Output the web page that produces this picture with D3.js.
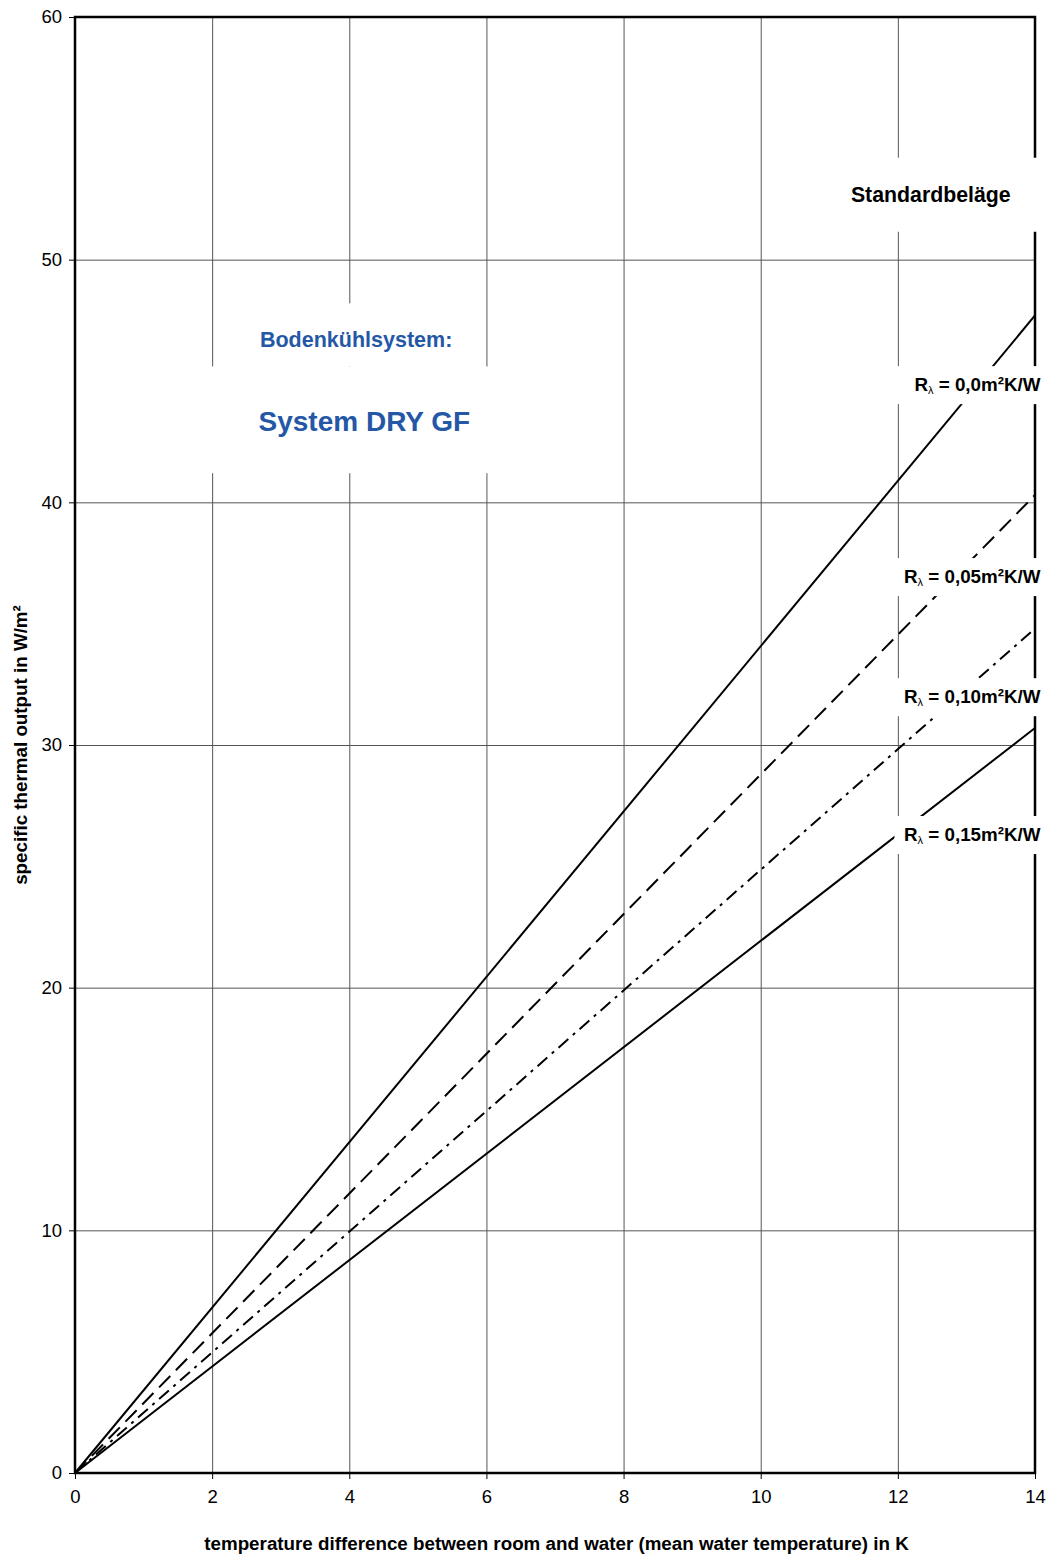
<!DOCTYPE html>
<html>
<head>
<meta charset="utf-8">
<script src="https://cdn.jsdelivr.net/npm/d3@7"></script>
<style>
  body { margin: 0; background: #fff; }
  svg { display: block; font-family: "Liberation Sans", Arial, sans-serif; }
  .grid line { stroke: #555; stroke-width: 1; }
  .grid path { display: none; }
  .axis path { display: none; }
  .axis line { stroke: #000; }
  .axis text { font-size: 18.5px; fill: #000; }
</style>
</head>
<body>
<svg id="chart" width="1049" height="1556"></svg>
<script>
// temperature difference in K
const xValues = [0, 14];
// specific thermal output in W/m² per floor resistance
const seriesNames = ['0,0', '0,05', '0,10', '0,15'];
const seriesValues = [
  [0, 47.7],
  [0, 40.3],
  [0, 34.8],
  [0, 30.7],
];
const seriesDash = [null, '16,8', '13,6,3,6', null];
const xTicks = [0, 2, 4, 6, 8, 10, 12, 14];
const yTicks = [0, 10, 20, 30, 40, 50, 60];
// label anchor heights (W/m²) for the R labels
const rLabelY = [44.83, 36.92, 31.97, 26.29];

const svg = d3.select('#chart');
const margin = { top: 17, right: 14, bottom: 83, left: 75 };
const width = 1049 - margin.left - margin.right;
const height = 1556 - margin.top - margin.bottom;

const x = d3.scaleLinear().domain([0, 14]).range([0, width]);
const y = d3.scaleLinear().domain([0, 60]).range([height, 0]);

const g = svg.append('g').attr('transform', `translate(${margin.left},${margin.top})`);

// grid lines
g.append('g')
  .classed('grid', true)
  .attr('transform', `translate(0,${height})`)
  .call(d3.axisBottom(x).tickValues(xTicks).tickSize(-height).tickFormat(''));
g.append('g')
  .classed('grid', true)
  .call(d3.axisLeft(y).tickValues(yTicks).tickSize(-width).tickFormat(''));

// axes
g.append('g')
  .classed('axis', true)
  .attr('transform', `translate(0,${height})`)
  .call(d3.axisBottom(x).tickValues(xTicks).tickSize(6).tickPadding(11));
g.append('g')
  .classed('axis', true)
  .call(d3.axisLeft(y).tickValues(yTicks).tickSize(6).tickPadding(7));

// series lines
const line = d3.line()
  .x((d, i) => x(xValues[i]))
  .y(d => y(d));
g.append('g')
  .selectAll('path')
  .data(seriesValues)
  .enter()
  .append('path')
  .attr('d', d => line(d))
  .attr('fill', 'none')
  .attr('stroke', '#000')
  .attr('stroke-width', 2)
  .attr('stroke-dasharray', (d, i) => seriesDash[i]);

// frame
g.append('rect')
  .attr('x', 0).attr('y', 0)
  .attr('width', width).attr('height', height)
  .attr('fill', 'none')
  .attr('stroke', '#000')
  .attr('stroke-width', 2.5);

// white label boxes
function box(x0, x1, y0, y1) {
  g.append('rect')
    .attr('x', x(x0)).attr('y', y(y0))
    .attr('width', x(x1) - x(x0)).attr('height', y(y1) - y(y0))
    .attr('fill', '#fff');
}

box(10.9, 14.3, 54.2, 51.15);
g.append('text')
  .attr('x', x(12.48)).attr('y', y(52.7))
  .attr('dy', '0.35em')
  .attr('text-anchor', 'middle')
  .attr('font-size', 21.3).attr('font-weight', 'bold')
  .text('Standardbeläge');

box(2.5, 5.8, 48.2, 45.6);
box(1.9, 6.2, 45.6, 41.2);
g.append('text')
  .attr('x', x(4.1)).attr('y', y(46.7))
  .attr('dy', '0.35em')
  .attr('text-anchor', 'middle')
  .attr('font-size', 21.5).attr('font-weight', 'bold')
  .attr('fill', '#2458a6')
  .text('Bodenkühlsystem:');
g.append('text')
  .attr('x', x(4.22)).attr('y', y(43.33))
  .attr('dy', '0.35em')
  .attr('text-anchor', 'middle')
  .attr('font-size', 28).attr('font-weight', 'bold')
  .attr('fill', '#2458a6')
  .text('System DRY GF');

// R labels
rLabelY.forEach((v, i) => {
  g.append('rect')
    .attr('x', x(11.95)).attr('y', y(v) - 19)
    .attr('width', x(14.3) - x(11.95)).attr('height', 38)
    .attr('fill', '#fff');
  const t = g.append('text')
    .attr('x', x(14.08)).attr('y', y(v) + 6)
    .attr('text-anchor', 'end')
    .attr('font-size', 18.8).attr('font-weight', 'bold');
  t.append('tspan').text('R');
  t.append('tspan').attr('font-size', 11).attr('font-weight', 'normal').attr('dy', 3).text('λ');
  t.append('tspan').attr('dy', -3).text(` = ${seriesNames[i]}m²K/W`);
});

// axis titles
svg.append('text')
  .attr('x', margin.left + width / 2 + 1.5)
  .attr('y', 1550)
  .attr('text-anchor', 'middle')
  .attr('font-size', 18.8).attr('font-weight', 'bold')
  .text('temperature difference between room and water (mean water temperature) in K');
svg.append('text')
  .attr('transform', `translate(27,${margin.top + height / 2}) rotate(-90)`)
  .attr('text-anchor', 'middle')
  .attr('font-size', 18.8).attr('font-weight', 'bold')
  .text('specific thermal output in W/m²');
</script>
</body>
</html>
